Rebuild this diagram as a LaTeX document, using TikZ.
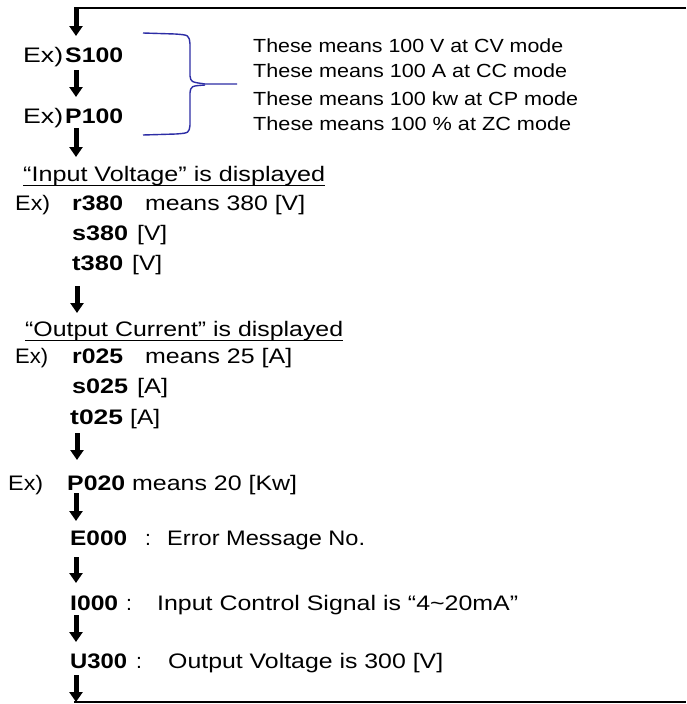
\documentclass[tikz,border=0pt]{standalone}
\usepackage{fontspec}
\setmainfont{Liberation Sans}
\usetikzlibrary{arrows.meta}
\newcommand\fw[2]{\resizebox{#1pt}{\height}{#2}}
\definecolor{braceblue}{RGB}{45,45,165}
\tikzset{
  lt/.style={inner sep=0pt, anchor=base west, font=\fontsize{21}{25}\selectfont},
  bd/.style={inner sep=0pt, anchor=base west, font=\fontsize{21}{25}\selectfont\bfseries},
  rt/.style={inner sep=0pt, anchor=base west, font=\fontsize{19}{23}\selectfont},
  flow/.style={line width=5pt, -{Triangle[width=13pt,length=10pt]}},
  frameline/.style={line width=2.4pt},
  uline/.style={line width=1.2pt},
  bracepath/.style={draw=braceblue, line width=1.4pt, line join=round}
}
\begin{document}
\begin{tikzpicture}[x=1pt,y=-1pt]
\fill[white] (0,0) rectangle (686,704);
\useasboundingbox (0,0) rectangle (686,704);

% frame loop
\coordinate (tl) at (76,8);
\coordinate (tr) at (686,8);
\coordinate (bl) at (74,702);
\coordinate (br) at (686,702);
\draw[frameline] (tr) -- (tl);
\draw[frameline] (bl) -- (br);

% arrow end points
\coordinate (a1e) at (76,36);
\coordinate (a2s) at (76,70);  \coordinate (a2e) at (76,97);
\coordinate (a3s) at (76,128); \coordinate (a3e) at (76,157);
\coordinate (a4s) at (77,286); \coordinate (a4e) at (77,313);
\coordinate (a5s) at (77,433); \coordinate (a5e) at (77,460);
\coordinate (a6s) at (76,493); \coordinate (a6e) at (76,521);
\coordinate (a7s) at (76,557); \coordinate (a7e) at (76,583);
\coordinate (a8s) at (76,615); \coordinate (a8e) at (76,642);
\coordinate (a9s) at (76,675); \coordinate (a9e) at (76,702);

\draw[flow] ([yshift=1pt]tl) -- (a1e);
\draw[flow] (a2s) -- (a2e);
\draw[flow] (a3s) -- (a3e);
\draw[flow] (a4s) -- (a4e);
\draw[flow] (a5s) -- (a5e);
\draw[flow] (a6s) -- (a6e);
\draw[flow] (a7s) -- (a7e);
\draw[flow] (a8s) -- (a8e);
\draw[flow] (a9s) -- (a9e);

% top block
\node[lt] (ex1) at (23,62) {\fw{40}{Ex)}};
\node[bd] (s100) at (65,62) {\fw{58}{S100}};
\node[lt] (ex2) at (23,123) {\fw{40}{Ex)}};
\node[bd] (p100) at (65,123) {\fw{58}{P100}};

% brace
\coordinate (bt) at (143,33);
\coordinate (bb) at (143,135);
\coordinate (btip) at (237,84);
\draw[bracepath] (bt) -- (175,34) .. controls (189,35) .. (190,44) -- (190,76)
  .. controls (191,82) .. (205,84) -- (btip);
\draw[bracepath] (205,85) .. controls (191,86) .. (190,93) -- (190,125)
  .. controls (189,133) .. (176,134) -- (bb);

\node[rt] (cv) at (253,52) {\fw{310}{These means 100 V at CV mode}};
\node[rt] (cc) at (253,77) {\fw{314}{These means 100 A at CC mode}};
\node[rt] (cp) at (253,105) {\fw{325}{These means 100 kw at CP mode}};
\node[rt] (zc) at (253,130) {\fw{318}{These means 100 \% at ZC mode}};

% input voltage
\node[lt] (iv) at (23,181) {\fw{302}{“Input Voltage” is displayed}};
\draw[uline] ([yshift=-4.5pt]iv.base west) -- ([yshift=-4.5pt]iv.base east);
\node[lt] (ex3) at (15,210) {\fw{35}{Ex)}};
\node[bd] (r380) at (72,210) {\fw{51}{r380}};
\node[lt] (m380) at (145,210) {\fw{160}{means 380 [V]}};
\node[bd] (s380) at (72,240) {\fw{56}{s380}};
\node[lt] (v2) at (137,240) {\fw{30}{[V]}};
\node[bd] (t380) at (72,270) {\fw{51}{t380}};
\node[lt] (v3) at (132,270) {\fw{30}{[V]}};

% output current
\node[lt] (oc) at (25,336) {\fw{318}{“Output Current” is displayed}};
\draw[uline] ([yshift=-4.5pt]oc.base west) -- ([yshift=-4.5pt]oc.base east);
\node[lt] (ex4) at (15,363) {\fw{33}{Ex)}};
\node[bd] (r025) at (72,363) {\fw{51}{r025}};
\node[lt] (m025) at (145,363) {\fw{147}{means 25 [A]}};
\node[bd] (s025) at (72,393) {\fw{56}{s025}};
\node[lt] (ca2) at (137,393) {\fw{31}{[A]}};
\node[bd] (t025) at (70,424) {\fw{53}{t025}};
\node[lt] (ca3) at (130,424) {\fw{30}{[A]}};

% power
\node[lt] (ex5) at (8,490) {\fw{35}{Ex)}};
\node[bd] (p020) at (67,490) {\fw{58}{P020}};
\node[lt] (m020) at (132,490) {\fw{165}{means 20 [Kw]}};

% messages
\node[bd] (e000) at (70,545) {\fw{57}{E000}};
\node[lt] (c1) at (145,545) {:};
\node[lt] (em) at (167,545) {\fw{198}{Error Message No.}};
\node[bd] (i000) at (70,610) {\fw{48}{I000}};
\node[lt] (c2) at (126,610) {:};
\node[lt] (ic) at (157,610) {\fw{361}{Input Control Signal is “4\textasciitilde 20mA”}};
\node[bd] (u300) at (70,668) {\fw{57}{U300}};
\node[lt] (c3) at (136,668) {:};
\node[lt] (ov) at (168,668) {\fw{275}{Output Voltage is 300 [V]}};
\end{tikzpicture}
\end{document}
